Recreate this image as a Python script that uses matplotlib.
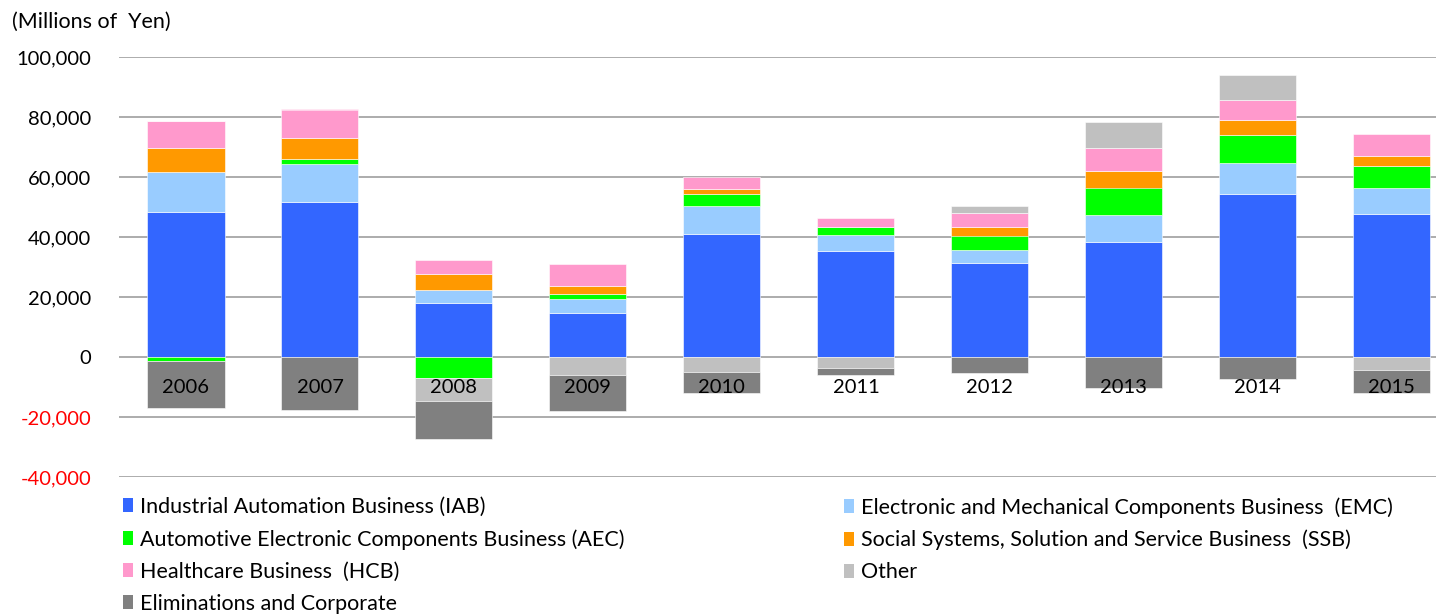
import numpy as np
import matplotlib.pyplot as plt
from matplotlib.patches import Patch

plt.rcParams["font.family"] = ["Lato", "DejaVu Sans"]

YEARS = ["2006", "2007", "2008", "2009", "2010", "2011", "2012", "2013", "2014", "2015"]
SERIES = [
    "Industrial Automation Business (IAB)",
    "Electronic and Mechanical Components Business  (EMC)",
    "Automotive Electronic Components Business (AEC)",
    "Social Systems, Solution and Service Business  (SSB)",
    "Healthcare Business  (HCB)",
    "Other",
    "Eliminations and Corporate",
]
IAB = [48400, 51800, 17900, 14700, 41000, 35200, 31200, 38500, 54400, 47800]
EMC = [13200, 12700, 4400, 4800, 9200, 5400, 4500, 8900, 10400, 8600]
AEC = [-1300, 1600, -7100, 1500, 4000, 2600, 4800, 9100, 9100, 7400]
SSB = [8000, 6800, 5300, 2700, 1800, 200, 3000, 5400, 5000, 3100]
HCB = [9100, 9600, 4800, 7200, 4000, 3000, 4500, 7800, 6800, 7400]
OTHER = [0, 0, -7600, -6100, -4900, -3700, 2500, 8600, 8300, -4400]
ELIM = [-15600, -17500, -12600, -11800, -7100, -2400, -5300, -10400, -7400, -7600]

COLORS = ["#3366ff", "#99ccff", "#00ff00", "#ff9900", "#ff99cc", "#c0c0c0", "#808080"]
YTICKS = [-40000, -20000, 0, 20000, 40000, 60000, 80000, 100000]

fig = plt.figure(figsize=(14.36, 6.16), dpi=100)
ax = fig.add_axes([119 / 1436, 1 - 477 / 616, 1 - 119 / 1436, 420 / 616])

x = np.arange(len(YEARS))
pos = np.zeros(len(YEARS))
neg = np.zeros(len(YEARS))
for vals, color in zip([IAB, EMC, AEC, SSB, HCB, OTHER, ELIM], COLORS):
    v = np.array(vals, dtype=float)
    bottom = np.where(v >= 0, pos, neg)
    ax.bar(x, v, 0.575, bottom=bottom, color=color, edgecolor="white",
           linewidth=0.4, zorder=2)
    pos += np.where(v >= 0, v, 0)
    neg += np.where(v < 0, v, 0)

for xi, yr in zip(x, YEARS):
    ax.text(xi, -10300, yr, ha="center", va="center", fontsize=14.5, zorder=3)

ax.set_xlim(-0.5, 9.33)
ax.set_ylim(-40000, 100000)
ax.set_yticks(YTICKS)
ax.set_yticklabels([f"{t:,}" for t in YTICKS], fontsize=14.5)
for lbl, t in zip(ax.get_yticklabels(), YTICKS):
    if t < 0:
        lbl.set_color("#ff0000")
ax.tick_params(axis="y", length=0, pad=20)
ax.set_xticks([])
ax.yaxis.grid(True, color="#a6a6a6", lw=1.3, zorder=0)
ax.set_axisbelow(True)
for s in ax.spines.values():
    s.set_visible(False)

fig.text(12 / 1436, 1 - 22 / 616, "(Millions of  Yen)", fontsize=15.5, va="center", ha="left")

handles = [Patch(facecolor=c, label=l) for c, l in zip(COLORS, SERIES)]
left = [handles[i] for i in (0, 2, 4, 6)]
right = [handles[i] for i in (1, 3, 5)]
common = dict(frameon=False, fontsize=15.5, handlelength=0.48, handleheight=0.62,
              handletextpad=0.3, labelspacing=0.56, borderaxespad=0, borderpad=0,
              loc="upper left")
fig.legend(handles=left, bbox_to_anchor=(123 / 1436, 1 - 497 / 616), **common)
fig.legend(handles=right, bbox_to_anchor=(844 / 1436, 1 - 497 / 616), **common)

fig.savefig("out.png", dpi=100)
